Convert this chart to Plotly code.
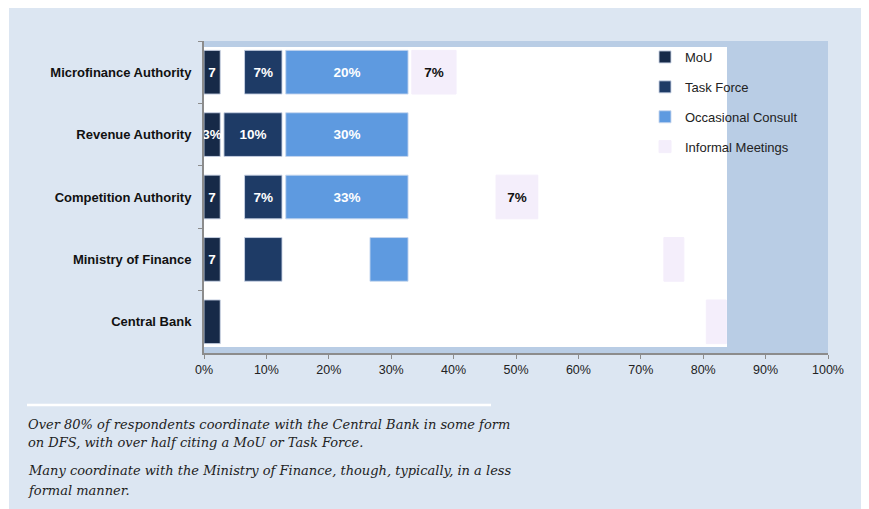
import plotly.graph_objects as go

categories = ["Microfinance Authority", "Revenue Authority", "Competition Authority",
              "Ministry of Finance", "Central Bank"]
series_names = ["MoU", "Task Force", "Occasional Consult", "Informal Meetings"]

# start and end (in %) of each drawn bar segment, as they appear in the picture
mou_start = [0, 0, 0, 0, 0]
mou_end = [2.6, 2.6, 2.6, 2.6, 2.6]
mou_text = ["7", "3%", "7", "7", ""]

tf_start = [6.5, 3.2, 6.5, 6.5, None]
tf_end = [12.5, 12.5, 12.5, 12.5, None]
tf_text = ["7%", "10%", "7%", "", ""]

occ_start = [13.1, 13.1, 13.1, 26.6, None]
occ_end = [32.7, 32.7, 32.7, 32.7, None]
occ_text = ["20%", "30%", "33%", "", ""]

inf_start = [33.3, None, 46.8, 73.7, 80.5]
inf_end = [40.4, None, 53.5, 76.9, 83.7]
inf_text = ["7%", "", "7%", "", ""]

x_ticks = list(range(0, 101, 10))

note_lines = [
    "Over 80% of respondents coordinate with the Central Bank in some form",
    "on DFS, with over half citing a MoU or Task Force.",
    "Many coordinate with the Ministry of Finance, though, typically, in a less",
    "formal manner.",
]

colors = ["#172a48", "#1e3b66", "#5e9ae0", "#f4eefb"]
edge_colors = ["rgba(200,210,228,0.9)", "rgba(200,210,228,0.9)", "rgba(200,215,238,0.9)", "#f4eefb"]
text_colors = ["white", "white", "white", "#111111"]

starts = [mou_start, tf_start, occ_start, inf_start]
ends = [mou_end, tf_end, occ_end, inf_end]
texts = [mou_text, tf_text, occ_text, inf_text]

fig = go.Figure()
for i, name in enumerate(series_names):
    widths = [(e - s) if (s is not None and e is not None) else None
              for s, e in zip(starts[i], ends[i])]
    fig.add_trace(go.Bar(
        y=categories, x=widths, base=starts[i], orientation="h", name=name,
        marker=dict(color=colors[i], line=dict(width=1, color=edge_colors[i])),
        width=0.7, text=texts[i], textposition="inside", insidetextanchor="middle",
        constraintext="none", textangle=0, cliponaxis=False,
        textfont=dict(family="Liberation Sans, Arial", size=13.5, color=text_colors[i], weight="bold"),
        legendgroup=name,
    ))

# page body adds an 8px offset; design in reference pixel coords, shifted
OFF = 8
W, H = 869 - OFF, 509 - OFF
X0, X1, Y0, Y1 = 204 - OFF, 828 - OFF, 41 - OFF, 353 - OFF
L, R, T, B = X0, W - X1, Y0, H - Y1
pw, ph = X1 - X0, Y1 - Y0

def px(x):
    return (x - OFF - X0) / pw

def py(y):
    return (Y1 - (y - OFF)) / ph

shapes = [
    dict(type="rect", xref="paper", yref="paper", x0=px(9), x1=px(880), y0=py(520), y1=py(8),
         fillcolor="#dce6f2", line=dict(width=0), layer="below"),
    dict(type="rect", xref="paper", yref="paper", x0=0, x1=1, y0=0, y1=1,
         fillcolor="#b9cde5", line=dict(width=0), layer="below"),
    dict(type="rect", xref="paper", yref="paper", x0=0, x1=px(727), y0=py(347), y1=py(47),
         fillcolor="white", line=dict(width=0), layer="below"),
    dict(type="line", xref="paper", yref="paper", x0=px(27), x1=px(491), y0=py(405), y1=py(405),
         line=dict(color="white", width=2.5)),
]

note_font = dict(family="DejaVu Serif, Liberation Serif", size=13, color="#222222", style="italic")
line_y = [424, 443, 470, 490]
annotations = [
    dict(xref="paper", yref="paper", x=px(26), y=py(yy), xanchor="left", yanchor="middle",
         showarrow=False, align="left", font=note_font, text=t)
    for t, yy in zip(note_lines, line_y)
]

fig.update_layout(
    width=W, height=H,
    margin=dict(l=L, r=R, t=T, b=B, pad=0),
    paper_bgcolor="white", plot_bgcolor="rgba(0,0,0,0)",
    barmode="overlay", bargap=0.3,
    shapes=shapes, annotations=annotations,
    font=dict(family="Liberation Sans, Arial", size=12, color="#222222"),
    legend=dict(x=px(645), y=py(42), xanchor="left", yanchor="top",
                bgcolor="rgba(0,0,0,0)", traceorder="grouped", tracegroupgap=10,
                font=dict(size=13, color="#222222"), itemwidth=30),
    showlegend=True,
)
fig.update_xaxes(range=[0, 100], tickvals=x_ticks, ticktext=[f"{v}%" for v in x_ticks],
                 showgrid=False, zeroline=False, showline=True, linecolor="#8c8c8c", linewidth=2,
                 ticks="outside", ticklen=4, tickcolor="#8c8c8c", tickfont=dict(size=12.5, color="#222"))
fig.update_yaxes(categoryorder="array", categoryarray=categories, autorange="reversed",
                 showgrid=False, zeroline=False, showline=True, linecolor="#8c8c8c", linewidth=2,
                 ticks="outside", ticklen=4, tickcolor="#8c8c8c", tickson="boundaries",
                 ticklabelstandoff=8,
                 tickfont=dict(size=13, color="#111", weight="bold"))

fig.write_html("out.html")
